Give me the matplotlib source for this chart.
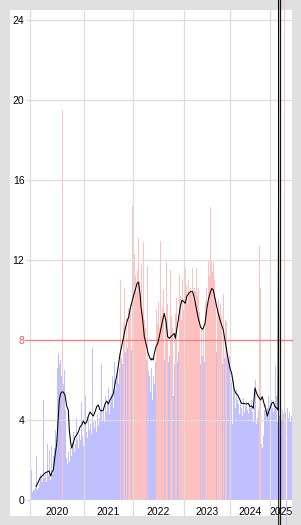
import matplotlib
matplotlib.use('Agg')
import matplotlib.pyplot as plt
from matplotlib.patches import Rectangle

plt.rcParams['font.family'] = ['Liberation Sans', 'DejaVu Sans']

years = ['2020', '2021', '2022', '2023', '2024', '2025']
year_edges = [0, 54, 103, 154, 200, 240, 262]
threshold = 8

values = [
    0.5, 1.5, 0.4, 0.5, 0.5, 0.6, 2.2, 0.5, 0.6, 0.8,
    1.3, 1.2, 0.9, 5.0, 1.1, 1.3, 0.9, 2.8, 1.2, 2.5,
    1.0, 2.7, 1.3, 2.2, 2.6, 3.5, 3.0, 6.6, 7.3, 6.8,
    7.0, 6.2, 19.5, 5.8, 6.5, 4.5, 2.1, 1.8, 2.4, 1.9,
    2.6, 2.2, 2.9, 3.4, 2.4, 2.8, 4.1, 3.0, 2.6, 3.3,
    3.0, 4.9, 3.2, 2.7, 5.6, 5.2, 3.4, 3.1, 4.2, 3.5,
    3.8, 3.3, 7.6, 3.9, 3.6, 4.0, 3.4, 4.3, 3.7, 4.1,
    4.5, 6.8, 4.0, 4.6, 3.9, 5.2, 4.4, 4.8, 5.6, 4.3,
    4.9, 5.3, 6.2, 4.6, 6.9, 5.5, 5.9, 6.3, 5.8, 6.6,
    11.0, 7.1, 6.8, 8.8, 10.6, 7.4, 9.1, 7.6, 9.6, 9.3,
    9.8, 7.5, 14.7, 10.4, 12.3, 11.2, 10.4, 11.5, 13.1, 10.9,
    9.8, 11.8, 9.5, 12.9, 9.0, 8.6, 7.0, 11.7, 6.5, 6.2,
    5.4, 6.6, 5.0, 6.2, 5.8, 6.9, 9.5, 8.8, 9.9, 8.6,
    12.95, 9.2, 9.6, 10.5, 7.0, 8.9, 11.9, 9.8, 6.9, 7.2,
    11.5, 9.2, 8.6, 5.2, 6.8, 9.3, 10.1, 6.9, 7.4, 11.25,
    10.2, 9.0, 11.0, 9.5, 10.8, 11.6, 10.75, 9.8, 11.0, 10.4,
    10.6, 10.3, 11.6, 9.9, 10.6, 10.4, 11.6, 10.2, 10.6, 9.4,
    6.8, 8.6, 7.2, 8.5, 6.9, 9.9, 10.6, 9.5, 12.0, 11.2,
    14.67, 12.0, 11.4, 11.9, 11.0, 10.1, 7.4, 9.6, 10.0, 9.3,
    9.8, 9.2, 6.8, 10.3, 7.1, 9.0, 8.9, 7.3, 6.9, 7.2,
    6.4, 5.9, 3.8, 6.0, 5.4, 4.6, 5.5, 5.0, 4.8, 4.3,
    5.0, 4.6, 4.2, 5.1, 4.4, 4.7, 4.9, 4.5, 4.3, 4.8,
    4.6, 5.0, 4.4, 3.9, 4.7, 6.0, 3.8, 4.1, 4.5, 12.7,
    10.6, 2.8, 2.6, 3.2, 4.5, 4.8, 4.3, 4.6, 5.2, 4.4,
    4.9, 5.0, 4.6, 4.4, 4.8, 6.7, 5.2, 3.9, 3.7, 4.2,
    3.2, 4.0, 4.5, 4.3, 300, 4.4, -300, 4.6, 4.1, 4.4,
    3.9, 4.2,
]

line_x = [
    6, 8.3, 10, 12, 15, 17, 19, 20.7, 22, 23.3, 25, 26.7, 28.3, 29.3, 30.5,
    31.7, 33.3, 35, 36.7, 38.3, 39.3, 40.7, 41.7, 43.3, 45, 46.7, 48.3, 50,
    51.7, 53.3, 55, 56.7, 58.3, 60, 61.7, 63.3, 65, 66.7, 68.3, 70, 72, 73.3,
    75, 76.7, 78.3, 80, 81.7, 83.3, 85, 86.7, 88.3, 90, 91.7, 93.7, 95.3, 97,
    98.7, 100.3, 102, 103.7, 105.3, 107, 108.5, 110, 111, 112.7, 114.3, 116,
    117.7, 119.3, 121, 122, 123.3, 124.3, 126, 127.7, 129.3, 131, 132.7,
    134.3, 136, 137.7, 139.3, 141, 142.7, 144.3, 145.3, 146.7, 148.7, 150.3,
    152, 153.7, 155.3, 156.7, 158.7, 160.5, 162.7, 164, 166, 168.3, 170.7,
    172.7, 175, 176.7, 178.3, 180, 181.7, 183.3, 185, 186.7, 188.3, 190,
    191.7, 193.3, 195, 196.7, 198.3, 200, 201.7, 203.3, 204.3, 206, 207.7,
    210, 211.7, 213.3, 216, 218.3, 220, 221.7, 223.3, 225, 226.7, 228.3,
    230.7, 232.3, 234, 236, 237.3, 239.3, 241.7, 243.3, 245, 246.7, 248,
    248.3, 248.5, 248.6, 248.8, 250.5, 250.7,
]
line_y = [
    0.67, 0.9, 1.1, 1.2, 1.35, 1.4, 1.45, 1.2, 1.4, 1.5, 2.2, 2.8, 4.2, 5.0, 5.3,
    5.4, 5.4, 5.25, 4.7, 4.5, 3.5, 2.85, 2.6, 2.85, 3.15, 3.25, 3.4, 3.65,
    3.75, 3.95, 3.8, 3.9, 4.2, 4.4, 4.3, 4.2, 4.4, 4.67, 4.75, 4.5, 4.45, 4.5,
    4.8, 4.95, 4.8, 5.0, 5.15, 5.3, 5.8, 6.2, 6.7, 7.3, 7.7, 8.17, 8.58, 8.92,
    9.17, 9.58, 9.92, 10.25, 10.5, 10.83, 10.9, 10.33, 9.67, 9.0, 8.17, 7.83,
    7.42, 7.17, 7.0, 7.08, 7.0, 7.33, 7.67, 7.83, 8.17, 8.58, 9.0,
    9.33, 8.92, 8.17, 8.08, 8.17, 8.25, 8.33, 8.08, 8.5, 9.17, 9.67,
    10.0, 9.92, 9.83, 10.17, 10.33, 10.42, 10.42, 10.17, 9.67, 9.08, 8.63,
    8.53, 8.83, 9.5, 10.0, 10.33, 10.58, 10.5, 10.08, 9.67, 9.33, 9.0,
    8.75, 8.5, 8.0, 7.5, 7.0, 6.58, 6.33, 5.83, 5.5, 5.33, 5.25,
    5.0, 4.83, 4.83, 4.8, 4.83, 4.67, 4.7, 4.58, 5.6, 5.33, 5.17,
    5.0, 5.17, 4.83, 4.5, 4.2, 4.5, 4.83, 4.9, 4.67, 4.6, 4.5,
    12.0, 14.8, 2000, -2000, -2000, 2000,
]

fig = plt.figure(figsize=(3.01, 5.25), dpi=100, facecolor='#e0e0e0')
fig.patches.append(Rectangle((10 / 301, 9 / 525), 282 / 301, 506 / 525,
                             transform=fig.transFigure, facecolor='white',
                             edgecolor='none', zorder=-10))
ax = fig.add_axes([30 / 301, 25 / 525, 262 / 301, 490 / 525])
ax.set_zorder(1)
ax.set_facecolor('none')
for s in ax.spines.values():
    s.set_visible(False)

colors = ['#ffc0c0' if v > threshold else '#c0c0ff' for v in values]
bars = ax.bar([i + 0.5 for i in range(len(values))], values, width=1.0,
              color=colors, linewidth=0, zorder=1)
for b in bars:
    b.set_clip_on(False)
    b.set_antialiased(False)

ax.set_xlim(0, 262)
ax.set_ylim(0, 24.5)

# grid drawn on top of bars
for y in range(0, 25, 4):
    ax.axhline(y, color='#dddddd', lw=0.9, zorder=2)
ax.vlines(year_edges[:-1], -0.8, 24.5, color='#dddddd', lw=0.9, zorder=2,
          clip_on=False)
ax.plot([-5, 262], [threshold, threshold], color='#f08080', lw=0.9,
        zorder=3, clip_on=False)

ax.plot(line_x, line_y, color='black', lw=0.75, zorder=4, clip_on=False)

ax.set_yticks(range(0, 25, 4))
ax.tick_params(axis='y', length=3, width=0.9, color='#dddddd', pad=1,
               labelsize=7.5)
for lab in ax.get_yticklabels():
    if lab.get_text() == '8':
        lab.set_color('#e06060')

centers = [(year_edges[k] + year_edges[k + 1]) / 2 for k in range(len(years))]
ax.set_xticks(centers, labels=years)
ax.tick_params(axis='x', length=0, pad=5, labelsize=7.5)

fig.savefig('out.png', dpi=100, facecolor=fig.get_facecolor())
